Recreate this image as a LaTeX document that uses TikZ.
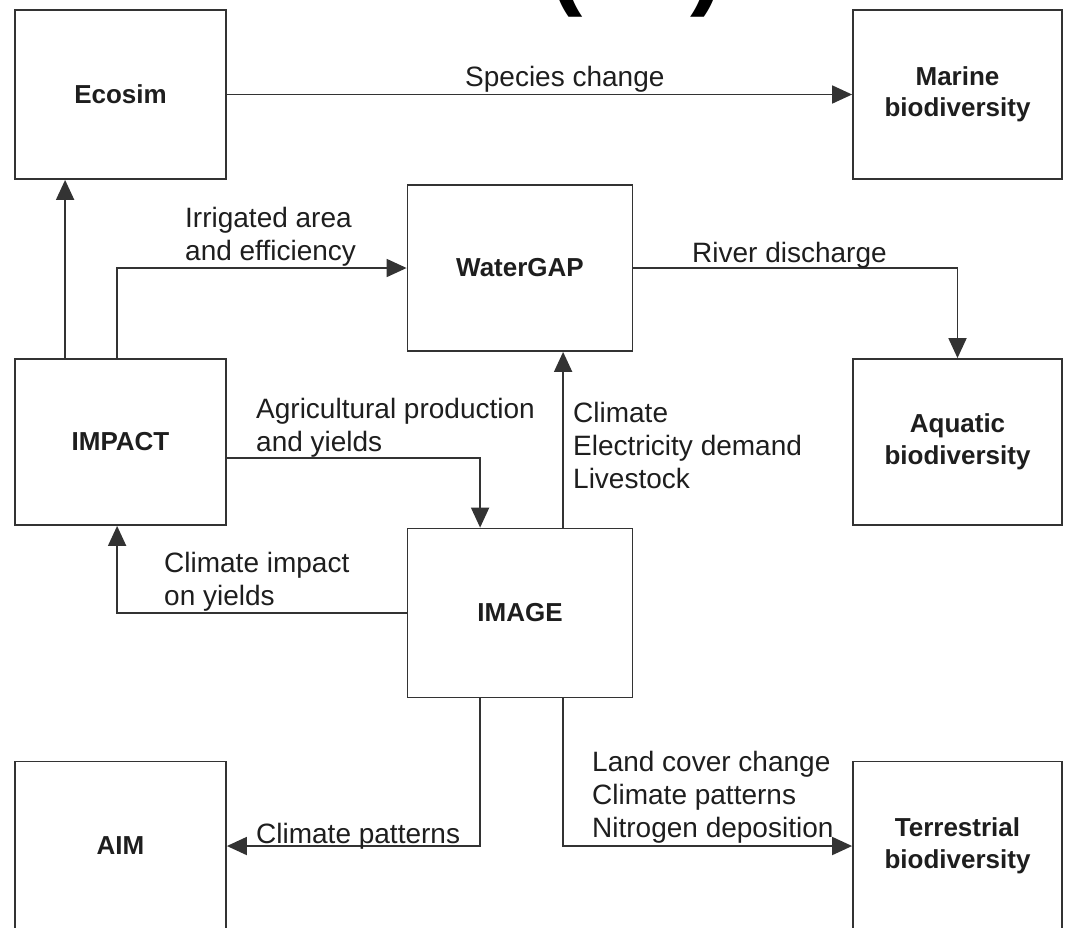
\documentclass[tikz,border=0pt]{standalone}
\usepackage{fontspec}
\setmainfont{Liberation Sans}
\usetikzlibrary{arrows.meta}
\definecolor{linec}{HTML}{333333}
\definecolor{textc}{HTML}{1E1E1E}
\tikzset{
  modelbox/.style={draw=linec, line width=1.8pt, minimum width=#1, inner sep=0pt,
    font=\fontsize{26}{31.5}\selectfont\bfseries, text=textc, align=center},
  arr/.style={draw=linec, line width=1.8pt, -{Triangle[length=20pt,width=18pt]}},
  lbl/.style={anchor=base west, inner sep=0pt, align=left, text=textc,
    font=\fontsize{28}{33}\selectfont},
  paren/.style={anchor=base west, inner sep=0pt, text=black,
    font=\fontsize{100}{110}\selectfont\bfseries}
}
\begin{document}
\begin{tikzpicture}[x=1pt,y=-1pt]
\useasboundingbox (0,0) rectangle (1083,927);
% partial title at top edge
\node[paren] (lp) at (549,-4) {(};
\node[paren] (rp) at (690,-4) {)};
% boxes
\node[modelbox=211pt, minimum height=169pt] (ecosim) at (120.5,94.5) {Ecosim};
\node[modelbox=209pt, minimum height=169pt] (marine) at (957.5,94.5) {Marine\\biodiversity};
\node[modelbox=225pt, minimum height=166pt] (watergap) at (520,268) {WaterGAP};
\node[modelbox=211pt, minimum height=166pt] (impact) at (120.5,442) {IMPACT};
\node[modelbox=209pt, minimum height=166pt] (aquatic) at (957.5,442) {Aquatic\\biodiversity};
\node[modelbox=225pt, minimum height=169pt] (image) at (520,613) {IMAGE};
\node[modelbox=211pt, minimum height=169pt] (aim) at (120.5,846) {AIM};
\node[modelbox=209pt, minimum height=169pt] (terr) at (957.5,846) {Terrestrial\\biodiversity};
% connectors
\draw[arr] (ecosim.east) -- (marine.west);
\draw[arr] ([xshift=51pt]impact.north west) -- ([xshift=51pt]ecosim.south west);
\draw[arr] ([xshift=103pt]impact.north west) |- (watergap.west);
\draw[arr] (watergap.east) -| (aquatic.north);
\draw[arr] ([yshift=-16pt]impact.east) -| ([xshift=73.5pt]image.north west);
\draw[arr] ([xshift=156.5pt]image.north west) -- ([xshift=156.5pt]watergap.south west);
\draw[arr] (image.west) -| ([xshift=103pt]impact.south west);
\draw[arr] ([xshift=73.5pt]image.south west) |- (aim.east);
\draw[arr] ([xshift=156.5pt]image.south west) |- (terr.west);
% labels (anchor = baseline of last line)
\node[lbl] (l1) at (465,86) {Species change};
\node[lbl] (l2) at (185,260) {Irrigated area\\and efficiency};
\node[lbl] (l3) at (692,262) {River discharge};
\node[lbl] (l4) at (256,451) {Agricultural production\\and yields};
\node[lbl] (l5) at (573,488) {Climate\\Electricity demand\\Livestock};
\node[lbl] (l6) at (164,605) {Climate impact\\on yields};
\node[lbl] (l7) at (256,843) {Climate patterns};
\node[lbl] (l8) at (592,837) {Land cover change\\Climate patterns\\Nitrogen deposition};
\end{tikzpicture}
\end{document}
